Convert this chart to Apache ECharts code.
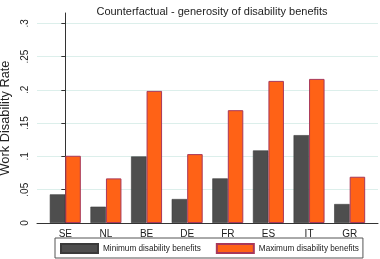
<!DOCTYPE html>
<html>
<head>
  <meta charset="utf-8">
  <script src="https://cdn.jsdelivr.net/npm/echarts@6/dist/echarts.min.js"></script>
</head>
<body style="margin:0">
  <div id="container" style="width:380px;height:259px"></div>
  <script type="text/javascript">
    // countries and work disability rates
    var countries = ['SE', 'NL', 'BE', 'DE', 'FR', 'ES', 'IT', 'GR'];
    var minBenefits = [0.043, 0.0245, 0.100, 0.036, 0.067, 0.109, 0.132, 0.0285];
    var maxBenefits = [0.101, 0.067, 0.1985, 0.1035, 0.1695, 0.2135, 0.2165, 0.0695];
    var yTicks = [0, 0.05, 0.1, 0.15, 0.2, 0.25, 0.3];
    var xTicks = [0, 1, 2, 3, 4, 5, 6, 7];

    var FONT = 'Liberation Sans, Arial, sans-serif';

    function pairs(vals) {
      return vals.map(function (v, i) { return [i, v]; });
    }

    var myChart = echarts.init(document.getElementById('container'), null, { renderer: 'canvas' });

    var option = {
      animation: false,
      backgroundColor: '#fff',
      title: {
        text: 'Counterfactual - generosity of disability benefits',
        left: 207,
        textAlign: 'center',
        top: 1,
        textStyle: { fontFamily: FONT, fontSize: 11, fontWeight: 'normal', color: '#222' }
      },
      legend: {
        left: 55,
        top: 238,
        padding: [5, 4, 4, 5],
        itemGap: 15,
        itemWidth: 37,
        itemHeight: 9,
        icon: 'rect',
        borderColor: '#555',
        borderWidth: 1,
        textStyle: { fontFamily: FONT, fontSize: 8.2, color: '#222' },
        data: ['Minimum disability benefits', 'Maximum disability benefits']
      },
      grid: { left: 37, right: 2, top: 13, bottom: 36, outerBoundsMode: 'none', containLabel: false },
      xAxis: {
        type: 'value',
        min: -0.697,
        max: 7.697,
        axisLine: { show: true, lineStyle: { color: '#333', width: 1 } },
        axisTick: { show: false },
        splitLine: { show: false },
        axisLabel: {
          customValues: xTicks,
          margin: 6,
          fontFamily: FONT,
          fontSize: 10,
          color: '#222',
          formatter: function (v) { return countries[Math.round(v)]; }
        }
      },
      yAxis: {
        type: 'value',
        min: 0,
        max: 0.3155,
        name: 'Work Disability Rate',
        nameLocation: 'middle',
        nameRotate: 90,
        nameGap: 24,
        nameTextStyle: { fontFamily: FONT, fontSize: 12.8, color: '#222' },
        axisLine: { show: true, lineStyle: { color: '#333', width: 1 } },
        axisTick: { show: true, length: 4, customValues: yTicks, lineStyle: { color: '#333' } },
        splitLine: { show: true, lineStyle: { color: '#dcefeb', width: 1 } },
        axisLabel: {
          customValues: yTicks,
          rotate: 90,
          margin: 7,
          fontFamily: FONT,
          fontSize: 10,
          color: '#222',
          formatter: function (v) {
            if (v === 0) return '0';
            return String(+v.toFixed(2)).replace(/^0/, '');
          }
        }
      },
      series: [
        {
          name: 'Minimum disability benefits',
          type: 'bar',
          barWidth: 15.5,
          barGap: '0%',
          data: pairs(minBenefits),
          itemStyle: { color: '#4e4e4e', borderColor: '#3a3a3a', borderWidth: 0.6 }
        },
        {
          name: 'Maximum disability benefits',
          type: 'bar',
          barWidth: 15.5,
          barGap: '0%',
          data: pairs(maxBenefits),
          itemStyle: { color: '#ff6216', borderColor: '#a8385a', borderWidth: 1 }
        }
      ]
    };

    myChart.setOption(option);
    window.addEventListener('resize', myChart.resize);
  </script>
</body>
</html>
